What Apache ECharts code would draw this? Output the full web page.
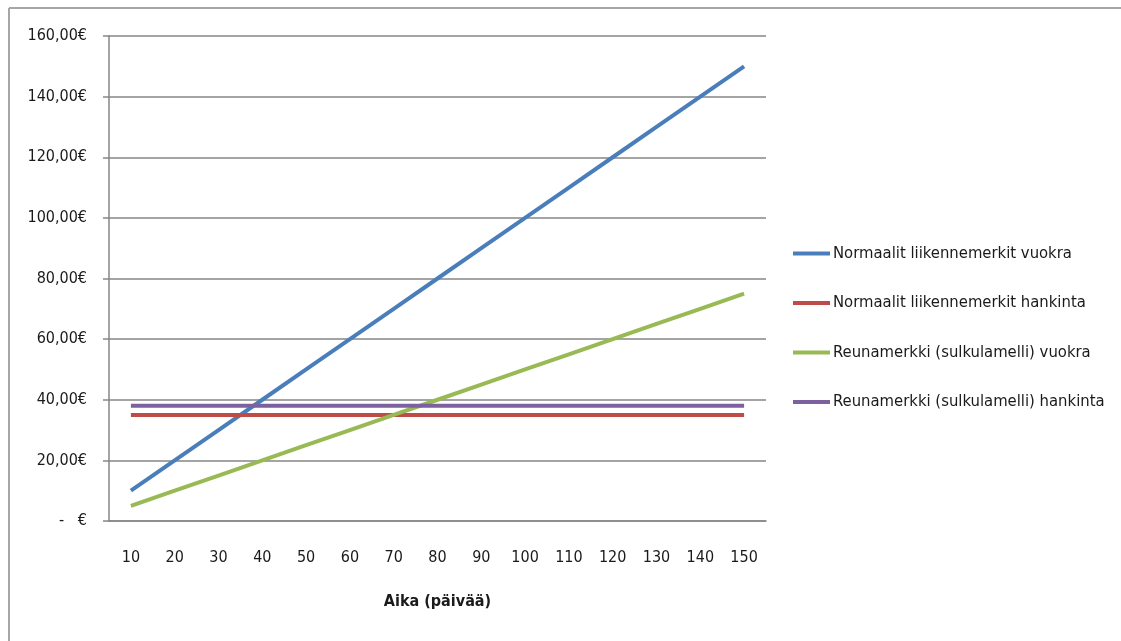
<!DOCTYPE html>
<html>
<head>
<meta charset="utf-8">
<script src="https://cdn.jsdelivr.net/npm/echarts@6/dist/echarts.min.js"></script>
<style>
html,body{margin:0;padding:0;background:#fff;}
#main{width:1121px;height:641px;}
</style>
</head>
<body>
<div id="main"></div>
<script>
var categories = ['10','20','30','40','50','60','70','80','90','100','110','120','130','140','150'];
var seriesNames = ['Normaalit liikennemerkit vuokra','Normaalit liikennemerkit hankinta','Reunamerkki (sulkulamelli) vuokra','Reunamerkki (sulkulamelli) hankinta'];
var normVuokra = [10,20,30,40,50,60,70,80,90,100,110,120,130,140,150];
var normHankinta = [35,35,35,35,35,35,35,35,35,35,35,35,35,35,35];
var reunaVuokra = [5,10,15,20,25,30,35,40,45,50,55,60,65,70,75];
var reunaHankinta = [38,38,38,38,38,38,38,38,38,38,38,38,38,38,38];
var colors = ['#4a7ebb','#be4b48','#98b954','#7d60a0'];
var xName = 'Aika (päivää)';

var font = '"DejaVu Sans Condensed","DejaVu Sans",sans-serif';
var chart = echarts.init(document.getElementById('main'));
var dataArr = [normVuokra, normHankinta, reunaVuokra, reunaHankinta];
chart.setOption({
  animation: false,
  backgroundColor: '#fff',
  color: colors,
  graphic: [
    {type:'line', shape:{x1:9,y1:8,x2:1121,y2:8}, style:{stroke:'#a6a6a6', lineWidth:2}},
    {type:'line', shape:{x1:9,y1:8,x2:9,y2:641}, style:{stroke:'#a6a6a6', lineWidth:2}}
  ],
  grid: {left:109, right:355, top:36, bottom:120},
  legend: {
    orient:'vertical', left:793, top:245, padding:0,
    itemWidth:37, itemHeight:4, itemGap:32.5,
    icon:'rect',
    textStyle:{fontFamily:font, fontSize:16.5, color:'#1a1a1a', padding:[0,0,0,-2]},
    data: seriesNames
  },
  xAxis: {
    type:'category', data:categories, boundaryGap:true,
    name:xName, nameLocation:'middle', nameGap:73,
    nameTextStyle:{fontFamily:font, fontSize:16, fontWeight:'bold', color:'#1a1a1a'},
    axisLine:{lineStyle:{color:'#868686', width:1.5}},
    axisTick:{show:false},
    axisLabel:{fontFamily:font, fontSize:16, color:'#1a1a1a', margin:29}
  },
  yAxis: {
    type:'value', min:0, max:160, interval:20,
    axisLine:{show:true, lineStyle:{color:'#868686', width:1.5}},
    axisTick:{show:true, length:6, lineStyle:{color:'#868686', width:1.5}},
    splitLine:{lineStyle:{color:'#868686', width:1.5}},
    axisLabel:{fontFamily:font, fontSize:16, color:'#1a1a1a', margin:22,
      formatter:function(v){ return v===0 ? '-   €' : v.toFixed(2).replace('.',',')+'€'; }}
  },
  series: seriesNames.map(function(n,i){
    return {name:n, type:'line', data:dataArr[i], showSymbol:false, symbol:'none',
      lineStyle:{width:4, color:colors[i]}, z: 3};
  })
});
</script>
</body>
</html>
